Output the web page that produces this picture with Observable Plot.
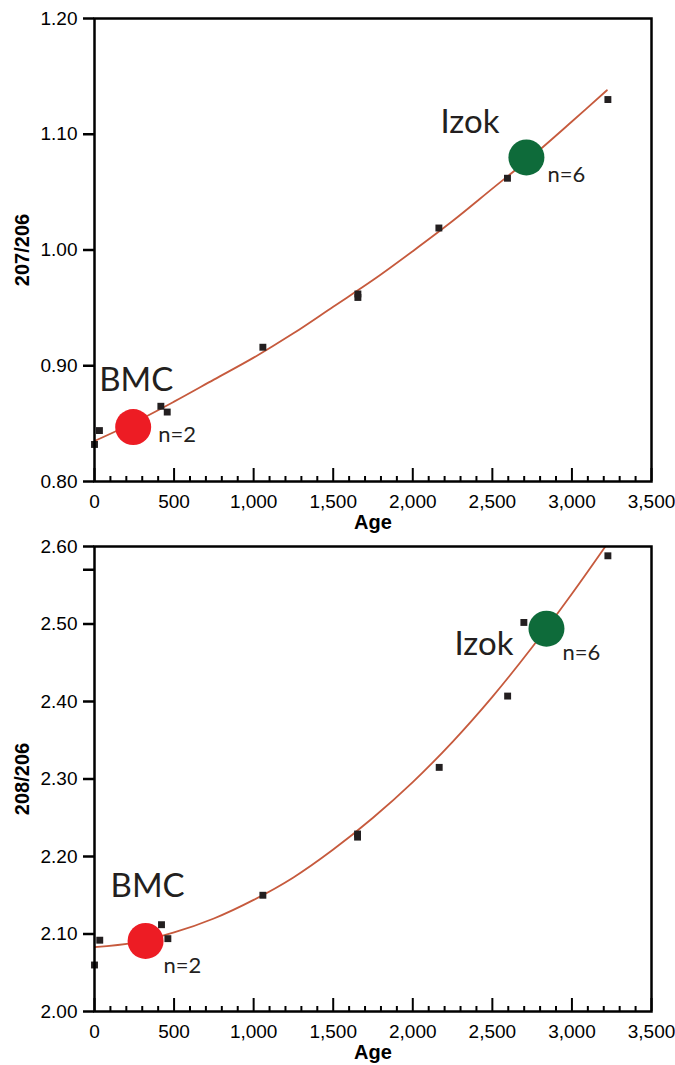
<!DOCTYPE html>
<html><head><meta charset="utf-8">
<script src="https://cdn.jsdelivr.net/npm/d3@7"></script>
<script src="https://cdn.jsdelivr.net/npm/@observablehq/plot@0.6"></script>
<style>body{margin:0;background:#fff}svg{display:block}</style>
</head><body><div id="c"></div>
<script>
// ---- data ----
const xTicks = [0, 500, 1000, 1500, 2000, 2500, 3000, 3500];
const yTicks207 = [0.80, 0.90, 1.00, 1.10, 1.20];
const yTicks208 = [2.00, 2.10, 2.20, 2.30, 2.40, 2.50, 2.60, 2.57];

const ages207 = [0, 31, 417, 457, 1058, 1655, 1655, 2164, 2595, 3226];
const ratio207 = [0.832, 0.844, 0.865, 0.860, 0.916, 0.962, 0.959, 1.019, 1.062, 1.130];

const ages208 = [0, 33, 421, 461, 1058, 1653, 1653, 2166, 2596, 2698, 3226];
const ratio208 = [2.060, 2.092, 2.112, 2.094, 2.150, 2.229, 2.225, 2.315, 2.407, 2.502, 2.588];

const curveAge207 = [0, 250, 500, 750, 1000, 1250, 1500, 1750, 2000, 2250, 2500, 2750, 3000, 3220];
const curve207 = [0.835, 0.851, 0.869, 0.888, 0.907, 0.928, 0.951, 0.974, 0.999, 1.025, 1.053, 1.081, 1.111, 1.138];

const curveAge208 = [0, 250, 500, 750, 1000, 1250, 1500, 1750, 2000, 2250, 2500, 2750, 3000, 3210];
const curve208 = [2.083, 2.089, 2.102, 2.120, 2.144, 2.173, 2.209, 2.250, 2.296, 2.348, 2.406, 2.470, 2.539, 2.600];

const sampleNames = ["BMC", "Izok"];
const sampleN = ["n=2", "n=6"];
const sampleColors = ["#ed1c24", "#0e6b3a"];
const sampleAge207 = [243, 2714];
const sample207 = [0.847, 1.080];
const sampleAge208 = [321, 2840];
const sample208 = [2.091, 2.494];

// ---- helpers ----
const fmtX = d3.format(",");
const fmtY = d3.format(".2f");
const majorX = d3.range(0, 3501, 500);
const minorX = d3.range(0, 3501, 100).filter(d => d % 500 !== 0);
const ink = "#231f20";

function panel(cfg) {
  const plotH = cfg.height - cfg.marginTop - cfg.marginBottom;
  const pts = cfg.ages.map((a, i) => ({a, r: cfg.ratios[i]}));
  const curve = cfg.curveAge.map((a, i) => ({a, r: cfg.curve[i]}));
  const samp = sampleNames.map((n, i) => ({name: n, n: sampleN[i], color: sampleColors[i], a: cfg.sAge[i], r: cfg.sRatio[i]}));
  const lab = cfg.labels;
  const marks = [
    Plot.line(curve, {x: "a", y: "r", stroke: "#c65a3d", strokeWidth: 1.8, curve: "catmull-rom", clip: true}),
    Plot.dot(pts, {x: "a", y: "r", symbol: "square", r: 3.9, fill: ink, stroke: "none"}),
    Plot.dot(samp, {x: "a", y: "r", r: 18, fill: "color", stroke: "none"}),
    Plot.frame({stroke: "#000", strokeWidth: 2.5}),
    Plot.axisY(cfg.yTicks, {tickSize: 11, tickPadding: 6, fontSize: 19, strokeWidth: 2.5, label: null,
      tickFormat: d => cfg.hidden.includes(d) ? "" : fmtY(d)}),
    Plot.axisX(xTicks, {tickSize: 0, tickPadding: 13, fontSize: 19, label: null, tickFormat: fmtX}),
    Plot.tickX(majorX, {x: d => d, insetTop: plotH - 13, strokeWidth: 2, stroke: "#000"}),
    Plot.tickX(minorX, {x: d => d, insetTop: plotH - 5, strokeWidth: 2, stroke: "#000"}),
    Plot.text([cfg.yLabel], {frameAnchor: "left", dx: -72, rotate: -90, textAnchor: "middle", lineAnchor: "middle",
      fontWeight: "bold", fontSize: 20, fill: "#000"}),
    Plot.text(["Age"], {frameAnchor: "bottom", dy: 47, textAnchor: "middle", lineAnchor: "bottom",
      fontWeight: "bold", fontSize: 20, fill: "#000"})
  ];
  samp.forEach((s, i) => {
    const L = lab[i];
    marks.push(Plot.text([s], {x: "a", y: "r", text: "name", dx: L.nameDx, dy: L.nameDy, textAnchor: L.nameAnchor,
      lineAnchor: "bottom", fontFamily: "Lato", fontSize: 33, fill: ink}));
    marks.push(Plot.text([s], {x: "a", y: "r", text: "n", dx: L.nDx, dy: L.nDy, textAnchor: "start",
      lineAnchor: "bottom", fontFamily: "Lato", fontSize: 22, fill: ink}));
  });
  return Plot.plot({
    width: 675, height: cfg.height,
    marginLeft: 94, marginRight: 24, marginTop: cfg.marginTop, marginBottom: cfg.marginBottom,
    style: {fontFamily: "'Liberation Sans', Arial, sans-serif", color: "#000", background: "#fff", overflow: "visible"},
    x: {domain: [0, 3500]},
    y: {domain: cfg.yDomain},
    marks
  });
}

const topPanel = panel({
  height: 540, marginTop: 18, marginBottom: 59,
  yDomain: [0.80, 1.20], yTicks: yTicks207, hidden: [], yLabel: "207/206",
  ages: ages207, ratios: ratio207, curveAge: curveAge207, curve: curve207,
  sAge: sampleAge207, sRatio: sample207,
  labels: [
    {nameDx: 3, nameDy: -36, nameAnchor: "middle", nDx: 25, nDy: 15},
    {nameDx: -27, nameDy: -24, nameAnchor: "end", nDx: 21, nDy: 25}
  ]
});
const bottomPanel = panel({
  height: 525, marginTop: 6, marginBottom: 54,
  yDomain: [2.00, 2.60], yTicks: yTicks208, hidden: [2.57], yLabel: "208/206",
  ages: ages208, ratios: ratio208, curveAge: curveAge208, curve: curve208,
  sAge: sampleAge208, sRatio: sample208,
  labels: [
    {nameDx: 2, nameDy: -44, nameAnchor: "middle", nDx: 18, nDy: 32},
    {nameDx: -33, nameDy: 26, nameAnchor: "end", nDx: 16, nDy: 31}
  ]
});
document.getElementById("c").append(topPanel, bottomPanel);
</script>
</body></html>
